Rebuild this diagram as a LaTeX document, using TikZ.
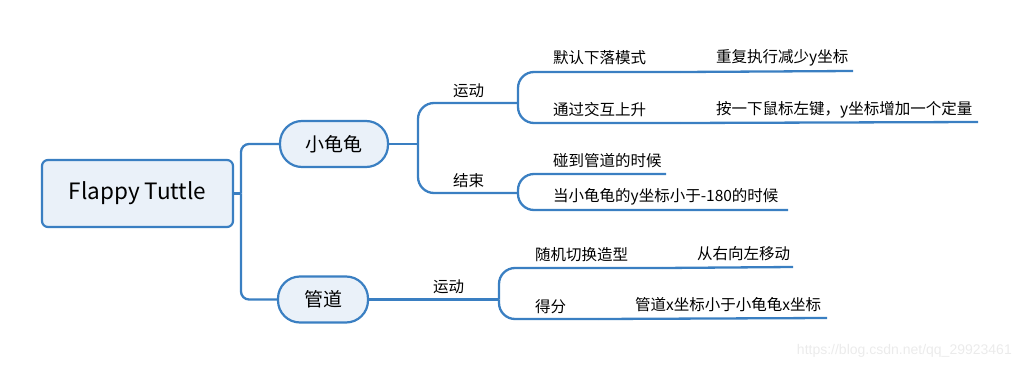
\documentclass[tikz,border=0pt]{standalone}
\usepackage{fontspec}
\setmainfont{Noto Sans CJK SC}
\newfontfamily\markfont{Liberation Sans}
\usetikzlibrary{positioning}
\definecolor{mapblue}{HTML}{3A7FC2}
\definecolor{mapfill}{HTML}{EAF1F9}

\begin{document}
\begin{tikzpicture}[x=1pt, y=-1pt,
    topic/.style={draw=mapblue, fill=mapfill, line width=2.2pt, rounded corners=6pt,
      minimum width=191pt, minimum height=67pt, font=\fontsize{22.5}{26}\selectfont},
    sub/.style={draw=mapblue, fill=mapfill, line width=2.2pt, rounded corners=22pt,
      minimum height=46pt, font=\fontsize{19}{23}\selectfont},
    branch/.style={draw=mapblue, line width=2.3pt, rounded corners=16pt},
    lbl/.style={anchor=west, inner sep=0pt, font=\fontsize{15.5}{18}\selectfont}]
  \useasboundingbox (0,0) rectangle (1022,369);

  % Central topic and its two subtopics
  \node[topic] (root) at (137.5,193.5) {\raisebox{-2pt}{Flappy Tuttle}};
  \node[sub, minimum width=108pt] (turtle) at (334,144) {小龟龟};
  \node[sub, minimum width=90pt] (pipe) at (323,299.5) {管道};
  \coordinate (trunk) at (241,193.5);
  \draw[branch] (root.east) -- (trunk);
  \draw[branch, rounded corners=8pt] (turtle.west) -| (trunk);
  \draw[branch, rounded corners=8pt] (pipe.west) -| (trunk);

  % Turtle
  \coordinate (tfork) at (418,144);
  \coordinate (move) at (518,103);
  \coordinate (over) at (518,193);
  \draw[branch] (turtle.east) -- (tfork);
  \draw[branch] (tfork) |- (move);
  \draw[branch] (tfork) |- (over);
  \node[lbl] (movetxt) at (453,91) {运动};
  \node[lbl] (overtxt) at (453,181) {结束};

  \coordinate (fall) at (680,72);
  \coordinate (fallend) at (853,71);
  \coordinate (rise) at (680,123);
  \coordinate (riseend) at (978,122);
  \draw[branch] (move) |- (fall);
  \draw[branch] (fall) -- (fallend);
  \draw[branch] (move) |- (rise);
  \draw[branch] (rise) -- (riseend);
  \node[lbl] (falltxt) at (553,58) {默认下落模式};
  \node[lbl] (repeat) at (716,58) {重复执行减少y坐标};
  \node[lbl] (risetxt) at (553,110) {通过交互上升};
  \node[lbl] (click) at (716,110) {按一下鼠标左键，y坐标增加一个定量};

  \coordinate (hit) at (666,174);
  \coordinate (low) at (788,210);
  \draw[branch] (over) |- (hit);
  \draw[branch] (over) |- (low);
  \node[lbl] (hittxt) at (553,161) {碰到管道的时候};
  \node[lbl] (lowtxt) at (553,197) {当小龟龟的y坐标小于-180的时候};

  % Pipe
  \coordinate (pfork) at (499,299.5);
  \draw[branch] (pipe.east) -- (pfork);
  \node[lbl] (pmovetxt) at (433,287) {运动};
  \coordinate (swap) at (662,268);
  \coordinate (swapend) at (793,267);
  \coordinate (score) at (598,319);
  \coordinate (scoreend) at (827,318);
  \draw[branch] (pfork) |- (swap);
  \draw[branch] (swap) -- (swapend);
  \draw[branch] (pfork) |- (score);
  \draw[branch] (score) -- (scoreend);
  \node[lbl] (swaptxt) at (535,255) {随机切换造型};
  \node[lbl] (slide) at (697,254) {从右向左移动};
  \node[lbl] (scoretxt) at (535,307) {得分};
  \node[lbl] (compare) at (635,305) {管道x坐标小于小龟龟x坐标};

  % Watermark
  \node[anchor=east, inner sep=0pt, text=black!8, font=\markfont\fontsize{14}{16}\selectfont]
    (mark) at (1012,351) {https://blog.csdn.net/qq\_29923461};
\end{tikzpicture}
\end{document}
